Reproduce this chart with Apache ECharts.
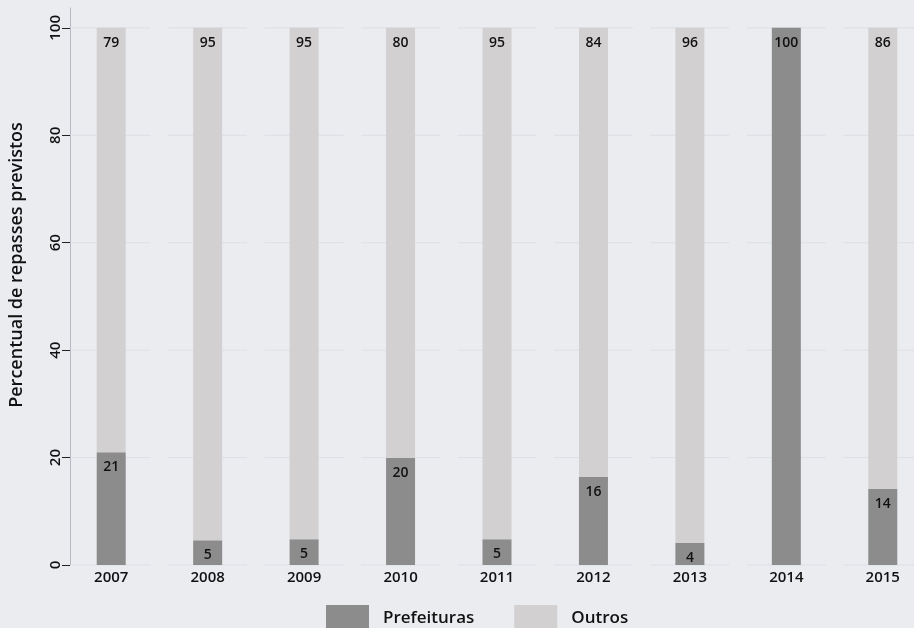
<!DOCTYPE html>
<html><head><meta charset="utf-8">
<script src="https://cdn.jsdelivr.net/npm/echarts@6/dist/echarts.min.js"></script>
<style>html,body{margin:0;padding:0;background:#ebecf0;}#c{width:914px;height:628px;}</style>
</head><body><div id="c"></div>
<script>
const categories = ['2007','2008','2009','2010','2011','2012','2013','2014','2015'];
const prefeituras = [21.0, 4.6, 4.8, 19.9, 4.8, 16.4, 4.1, 100, 14.2];
const outros = [79.0, 95.4, 95.2, 80.1, 95.2, 83.6, 95.9, 0, 85.8];
const yTicks = [0, 20, 40, 60, 80, 100];
const yTitle = 'Percentual de repasses previstos';
const seriesNames = ['Prefeituras', 'Outros'];

const FONT = '"Open Sans", sans-serif';
const W = 600;
const chart = echarts.init(document.getElementById('c'));
const labelCfg = {
  show: true, position: 'insideTop', distance: 8, color: '#111', fontSize: 14, fontWeight: W, fontFamily: FONT,
  formatter: p => (p.value > 0 ? Math.round(p.value) : '')
};
chart.setOption({
  backgroundColor: '#ebecf0',
  animation: false,
  grid: { left: 63, width: 868, top: 8, bottom: 63, outerBoundsMode: 'none', containLabel: false },
  legend: {
    bottom: -8, left: 321, itemWidth: 43, itemHeight: 26, itemGap: 40,
    icon: 'rect',
    textStyle: { fontSize: 17, fontWeight: W, fontFamily: FONT, color: '#111', padding: [0, 0, 0, 9] },
    data: seriesNames
  },
  xAxis: {
    type: 'category', data: categories,
    axisLine: { show: false }, axisTick: { show: false },
    axisLabel: { color: '#111', fontSize: 15, fontWeight: W, fontFamily: FONT, margin: 5 }
  },
  yAxis: {
    type: 'value', min: 0, max: 103.7, interval: 20, offset: -7,
    axisLine: { show: true, lineStyle: { color: '#b4b8c0', width: 1 } },
    axisTick: { show: true, length: 8, customValues: yTicks, lineStyle: { color: '#222' } },
    axisLabel: { customValues: yTicks, rotate: 90, color: '#111', fontSize: 15, fontWeight: W, fontFamily: FONT, margin: 7 },
    splitLine: { show: false }
  },
  graphic: [{
    type: 'text', x: 17, y: 265, rotation: Math.PI / 2,
    style: { text: yTitle, fontSize: 18, fontWeight: W, fontFamily: FONT, fill: '#111', align: 'center', verticalAlign: 'middle' }
  }],
  series: [
    {
      type: 'custom', silent: true, z: 1,
      data: categories.map((c, i) => i),
      renderItem: (params, api) => {
        const idx = api.value(0);
        const band = api.size([1, 0])[0];
        const half = band * 0.408;
        const children = yTicks.map(t => {
          const p = api.coord([idx, t]);
          return { type: 'line', shape: { x1: p[0] - half, y1: p[1], x2: p[0] + half, y2: p[1] },
                   style: { stroke: '#dcdfe4', lineWidth: 1 } };
        });
        return { type: 'group', children };
      }
    },
    { name: seriesNames[0], type: 'bar', stack: 's', barWidth: 29, z: 2, data: prefeituras,
      itemStyle: { color: '#8c8c8c' }, label: labelCfg },
    { name: seriesNames[1], type: 'bar', stack: 's', barWidth: 29, z: 2, data: outros,
      itemStyle: { color: '#d2d0d1' }, label: labelCfg }
  ]
});
</script></body></html>
